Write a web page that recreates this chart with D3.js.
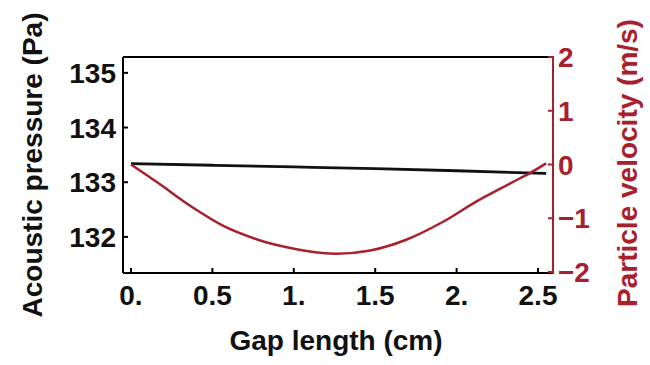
<!DOCTYPE html>
<html><head><meta charset="utf-8">
<script src="https://cdn.jsdelivr.net/npm/d3@7"></script>
<style>body{margin:0;background:#fff}svg{display:block}text{font-family:"Liberation Sans",Arial,sans-serif;font-weight:bold}</style>
</head><body>
<svg id="c" width="650" height="365"></svg>
<script>
const xTicks = [0, 0.5, 1, 1.5, 2, 2.5];
const xTickLabels = ["0.", "0.5", "1.", "1.5", "2.", "2.5"];
const pTicks = [132, 133, 134, 135];
const vTicks = [-2, -1, 0, 1, 2];
const vTickLabels = ["\u22122", "\u22121", "0", "1", "2"];

const gapX = [0, 0.5, 1.0, 1.5, 2.0, 2.55];
const pressure = [133.34, 133.31, 133.28, 133.25, 133.21, 133.16];

const velX = [0, 0.17, 0.37, 0.58, 0.78, 0.87, 1.06, 1.26, 1.47, 1.69, 1.92, 2.12, 2.33, 2.45, 2.55];
const velocity = [0, -0.35, -0.78, -1.16, -1.40, -1.48, -1.60, -1.66, -1.60, -1.40, -1.06, -0.69, -0.35, -0.16, 0.02];

const RED = "#a8202c";
const svg = d3.select("#c");
const L = 123, R = 553, T = 57, B = 273;
const x = d3.scaleLinear().domain([-0.049, 2.592]).range([L, R]);
const yP = d3.scaleLinear().domain([131.34, 135.29]).range([B, T]);
const yV = d3.scaleLinear().domain([-2, 2]).range([B - 1, T]);

// frame
svg.append("line").attr("x1", L).attr("x2", R).attr("y1", T).attr("y2", T).attr("stroke", "#000").attr("stroke-width", 2);
svg.append("line").attr("x1", L).attr("x2", R).attr("y1", B).attr("y2", B).attr("stroke", "#000").attr("stroke-width", 2);
svg.append("line").attr("x1", L).attr("x2", L).attr("y1", T).attr("y2", B).attr("stroke", "#000").attr("stroke-width", 2);
svg.append("line").attr("x1", R).attr("x2", R).attr("y1", T - 1).attr("y2", B + 1).attr("stroke", RED).attr("stroke-width", 2);

// bottom ticks
const xa = svg.append("g");
xTicks.forEach((t, i) => {
  xa.append("line").attr("x1", x(t)).attr("x2", x(t)).attr("y1", B).attr("y2", B - 5).attr("stroke", "#000").attr("stroke-width", 2);
  xa.append("text").attr("x", x(t)).attr("y", 305).attr("text-anchor", "middle").attr("font-size", 28).attr("fill", "#111").text(xTickLabels[i]);
});
// left ticks
pTicks.forEach(t => {
  svg.append("line").attr("x1", L).attr("x2", L + 5).attr("y1", yP(t)).attr("y2", yP(t)).attr("stroke", "#000").attr("stroke-width", 2);
  svg.append("text").attr("x", 116).attr("y", yP(t) + 10).attr("text-anchor", "end").attr("font-size", 28).attr("fill", "#111").text(t);
});
// right ticks
vTicks.forEach((t, i) => {
  svg.append("line").attr("x1", R).attr("x2", R - 5).attr("y1", yV(t)).attr("y2", yV(t)).attr("stroke", RED).attr("stroke-width", 2);
  svg.append("text").attr("x", 558).attr("y", yV(t) + 10).attr("text-anchor", "start").attr("font-size", 28).attr("fill", RED).text(vTickLabels[i]);
});

// lines
svg.append("path").datum(d3.zip(gapX, pressure))
  .attr("d", d3.line().x(d => x(d[0])).y(d => yP(d[1])).curve(d3.curveMonotoneX))
  .attr("fill", "none").attr("stroke", "#111").attr("stroke-width", 2.8);
svg.append("path").datum(d3.zip(velX, velocity))
  .attr("d", d3.line().x(d => x(d[0])).y(d => yV(d[1])).curve(d3.curveCatmullRom))
  .attr("fill", "none").attr("stroke", RED).attr("stroke-width", 2.5);

// axis labels
svg.append("text").attr("transform", "translate(42,165) rotate(-90)").attr("text-anchor", "middle").attr("font-size", 28).attr("fill", "#111").text("Acoustic pressure (Pa)");
svg.append("text").attr("transform", "translate(637,163) rotate(-90)").attr("text-anchor", "middle").attr("font-size", 28).attr("fill", RED).text("Particle velocity (m/s)");
svg.append("text").attr("x", 336).attr("y", 350).attr("text-anchor", "middle").attr("font-size", 28).attr("fill", "#111").text("Gap length (cm)");
</script>
</body></html>
